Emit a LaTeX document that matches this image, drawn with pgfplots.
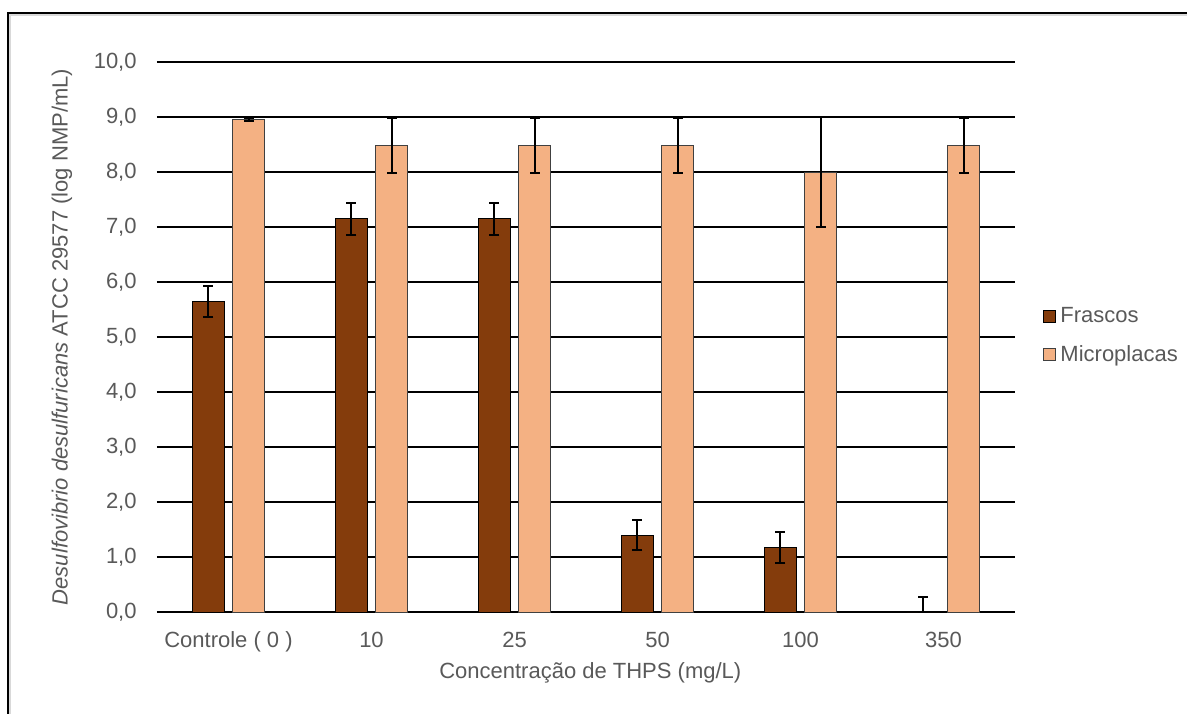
\documentclass[border=0pt]{standalone}
\usepackage{pgfplots}
\pgfplotsset{compat=1.18}
\usepackage{fontspec}
\setmainfont{Liberation Sans}
\definecolor{frasc}{HTML}{843C0C}
\definecolor{micro}{HTML}{F4B183}
\definecolor{txt}{HTML}{595959}
\definecolor{edge}{HTML}{404040}
\begin{document}
\begin{tikzpicture}
\useasboundingbox (-78.5pt,-50.5pt) rectangle (515pt,306pt);
\begin{axis}[
  scale only axis, width=429pt, height=275pt,
  ymin=0, ymax=10, xmin=-0.5, xmax=5.5,
  ybar, bar width=16pt,
  xtick={0,1,2,3,4,5},
  xticklabels={Controle ( 0 ),10,25,50,100,350},
  ytick={0,1,...,10},
  ymajorgrids, grid style={black, line width=0.9pt},
  major tick length=0pt,
  axis line style={draw=none},
  /pgf/number format/.cd, fixed, fixed zerofill, precision=1, use comma, assume math mode=true,
  /pgfplots/.cd,
  tick label style={font=\fontsize{11}{13}\selectfont, text=txt},
  yticklabel style={anchor=east, inner sep=0pt, xshift=-10pt},
  xticklabel style={anchor=base, inner sep=0pt, yshift=-17.5pt},
  label style={font=\fontsize{11}{13}\selectfont, text=txt},
  xlabel={Concentração de THPS (mg/L)},
  xlabel style={at={(axis description cs:0.505,-0.111)}, anchor=center},
  ylabel={\textit{Desulfovibrio desulfuricans} ATCC 29577 (log NMP/mL)},
  ylabel style={at={(axis description cs:-0.1107,0.5)}, anchor=center},
  legend style={at={(axis description cs:1.0327,0.502)}, anchor=west, draw=none, fill=none,
    font=\fontsize{11}{13}\selectfont, text=txt, row sep=6pt, inner sep=0pt},
  legend cell align=left,
]
\addplot[fill=frasc, draw=black, line width=0.5pt, bar shift=-10.1pt,
  legend image code/.code={\draw[fill=frasc, draw=black, line width=0.5pt] (0pt,-3pt) rectangle (6pt,3pt);},
  error bars/.cd, y dir=both, y explicit,
  error bar style={line width=1pt, black},
  error mark options={line width=1pt, black, mark size=2.5pt, rotate=90}]
  coordinates {
  (0,5.65) +- (0,0.28)
  (1,7.15) +- (0,0.29)
  (2,7.15) +- (0,0.29)
  (3,1.40) +- (0,0.27)
  (4,1.18) +- (0,0.28)
  (5,0) += (0,0.27) -= (0,0)
  };
\addlegendentry{Frascos}
\addplot[fill=micro, draw=edge, line width=0.5pt, bar shift=10.1pt,
  legend image code/.code={\draw[fill=micro, draw=edge, line width=0.5pt] (0pt,-3pt) rectangle (6pt,3pt);},
  error bars/.cd, y dir=both, y explicit,
  error bar style={line width=1pt, black},
  error mark options={line width=1pt, black, mark size=2.5pt, rotate=90}]
  coordinates {
  (0,8.96) +- (0,0.03)
  (1,8.48) +- (0,0.5)
  (2,8.48) +- (0,0.5)
  (3,8.48) +- (0,0.5)
  (4,8.0) +- (0,1.0)
  (5,8.48) +- (0,0.5)
  };
\addlegendentry{Microplacas}
\end{axis}
\draw[black!15, line width=0.8pt] (-73.5pt,-60pt) -- (-73.5pt,298.5pt) -- (600pt,298.5pt);
\draw[black, line width=1.1pt] (-74.5pt,-60pt) -- (-74.5pt,299.5pt) -- (600pt,299.5pt);
\end{tikzpicture}
\end{document}
